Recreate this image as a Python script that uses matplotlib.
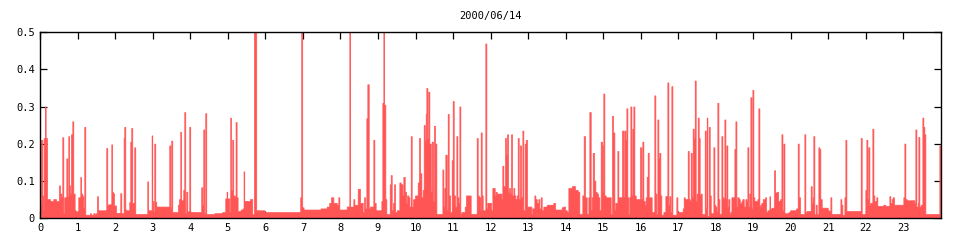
import matplotlib
matplotlib.use("Agg")
import matplotlib.pyplot as plt
import numpy as np

# step series: each entry starts a new level (hour, value)
# values above 0.5 are clipped by the axis
hours = [
    0.000, 0.018, 0.053, 0.071, 0.089, 0.124, 0.142, 0.178, 0.258, 0.346,
    0.417, 0.497, 0.524, 0.559, 0.586, 0.613, 0.639, 0.693, 0.719, 0.746,
    0.764, 0.790, 0.817, 0.853, 0.879, 0.915, 0.941, 1.012, 1.066, 1.083,
    1.119, 1.146, 1.172, 1.199, 1.323, 1.350, 1.412, 1.439, 1.465, 1.492,
    1.510, 1.536, 1.758, 1.785, 1.812, 1.892, 1.909, 1.936, 1.963, 2.016,
    2.131, 2.158, 2.220, 2.238, 2.265, 2.291, 2.371, 2.398, 2.424, 2.451,
    2.504, 2.531, 2.851, 2.869, 2.966, 2.984, 3.011, 3.037, 3.064, 3.091,
    3.437, 3.464, 3.490, 3.517, 3.668, 3.694, 3.730, 3.748, 3.810, 3.837,
    3.863, 3.890, 3.917, 3.970, 3.996, 4.289, 4.316, 4.343, 4.369, 4.396,
    4.423, 4.636, 4.849, 4.929, 4.964, 4.982, 5.036, 5.062, 5.080, 5.115,
    5.142, 5.178, 5.204, 5.231, 5.258, 5.338, 5.391, 5.417, 5.435, 5.586,
    5.648, 5.693, 5.755, 5.968, 6.927, 6.954, 6.980, 7.016, 7.469, 7.632,
    7.700, 7.748, 7.810, 7.900, 7.943, 7.970, 8.166, 8.236, 8.254, 8.343,
    8.370, 8.459, 8.521, 8.592, 8.627, 8.654, 8.690, 8.716, 8.752, 8.788,
    8.876, 8.903, 8.938, 9.090, 9.116, 9.143, 9.161, 9.196, 9.223, 9.312,
    9.339, 9.365, 9.401, 9.428, 9.454, 9.498, 9.569, 9.605, 9.650, 9.676,
    9.712, 9.747, 9.774, 9.810, 9.836, 9.872, 9.898, 9.934, 9.987, 10.058,
    10.093, 10.120, 10.156, 10.191, 10.218, 10.245, 10.271, 10.289, 10.316, 10.342,
    10.369, 10.405, 10.431, 10.467, 10.493, 10.520, 10.556, 10.716, 10.742, 10.769,
    10.795, 10.831, 10.858, 10.884, 10.920, 10.964, 10.991, 11.018, 11.053, 11.089,
    11.115, 11.142, 11.169, 11.195, 11.222, 11.311, 11.346, 11.470, 11.630, 11.657,
    11.684, 11.720, 11.737, 11.764, 11.790, 11.861, 11.888, 11.915, 12.012, 12.048,
    12.110, 12.137, 12.164, 12.288, 12.314, 12.341, 12.386, 12.412, 12.439, 12.466,
    12.492, 12.519, 12.546, 12.572, 12.608, 12.634, 12.661, 12.697, 12.723, 12.750,
    12.786, 12.812, 12.848, 12.874, 12.910, 12.937, 12.972, 13.088, 13.114, 13.168,
    13.194, 13.230, 13.274, 13.301, 13.336, 13.363, 13.407, 13.497, 13.674, 13.718,
    13.896, 13.941, 13.985, 14.030, 14.074, 14.164, 14.250, 14.322, 14.366, 14.446,
    14.482, 14.518, 14.562, 14.607, 14.633, 14.669, 14.696, 14.722, 14.758, 14.793,
    14.829, 14.864, 14.900, 14.935, 14.971, 14.989, 15.006, 15.033, 15.069, 15.202,
    15.237, 15.264, 15.300, 15.326, 15.380, 15.406, 15.504, 15.540, 15.566, 15.593,
    15.620, 15.646, 15.673, 15.700, 15.726, 15.753, 15.780, 15.806, 15.833, 15.868,
    15.984, 16.019, 16.046, 16.073, 16.108, 16.135, 16.161, 16.188, 16.215, 16.294,
    16.365, 16.392, 16.419, 16.446, 16.472, 16.499, 16.526, 16.552, 16.606, 16.659,
    16.712, 16.739, 16.766, 16.792, 16.819, 16.846, 16.952, 16.979, 17.121, 17.147,
    17.174, 17.254, 17.281, 17.307, 17.334, 17.361, 17.387, 17.414, 17.441, 17.467,
    17.494, 17.521, 17.547, 17.574, 17.601, 17.628, 17.708, 17.734, 17.761, 17.779,
    17.815, 17.841, 17.868, 17.939, 17.966, 17.992, 18.019, 18.045, 18.072, 18.099,
    18.152, 18.179, 18.206, 18.232, 18.259, 18.286, 18.312, 18.339, 18.366, 18.392,
    18.419, 18.499, 18.526, 18.552, 18.579, 18.615, 18.641, 18.686, 18.712, 18.748,
    18.792, 18.819, 18.845, 18.872, 18.899, 18.925, 18.952, 18.979, 19.005, 19.032,
    19.112, 19.138, 19.165, 19.192, 19.218, 19.254, 19.316, 19.343, 19.378, 19.432,
    19.450, 19.503, 19.556, 19.583, 19.628, 19.663, 19.717, 19.752, 19.779, 19.806,
    19.832, 19.939, 19.984, 20.143, 20.186, 20.213, 20.248, 20.364, 20.390, 20.426,
    20.532, 20.559, 20.586, 20.603, 20.630, 20.665, 20.692, 20.737, 20.763, 20.790,
    20.826, 20.986, 21.021, 21.057, 21.084, 21.324, 21.350, 21.377, 21.431, 21.457,
    21.484, 21.865, 21.892, 21.989, 22.016, 22.043, 22.069, 22.096, 22.123, 22.176,
    22.203, 22.229, 22.283, 22.309, 22.469, 22.520, 22.629, 22.656, 22.691, 22.718,
    22.754, 23.002, 23.029, 23.056, 23.091, 23.296, 23.322, 23.349, 23.385, 23.402,
    23.429, 23.464, 23.509, 23.535, 23.562, 23.589, 23.962, 23.988, 24.000,
]
values = [
    0.035, 0.210, 0.060, 0.020, 0.215, 0.300, 0.215, 0.050, 0.045, 0.050,
    0.045, 0.087, 0.065, 0.055, 0.217, 0.012, 0.055, 0.160, 0.057, 0.220,
    0.087, 0.065, 0.225, 0.260, 0.065, 0.020, 0.017, 0.055, 0.110, 0.065,
    0.058, 0.027, 0.245, 0.008, 0.012, 0.008, 0.012, 0.008, 0.012, 0.008,
    0.058, 0.020, 0.188, 0.033, 0.036, 0.198, 0.070, 0.066, 0.033, 0.013,
    0.066, 0.012, 0.215, 0.245, 0.022, 0.020, 0.042, 0.205, 0.242, 0.040,
    0.190, 0.010, 0.098, 0.020, 0.222, 0.045, 0.015, 0.200, 0.043, 0.030,
    0.195, 0.027, 0.208, 0.015, 0.035, 0.050, 0.232, 0.047, 0.075, 0.285,
    0.012, 0.070, 0.017, 0.245, 0.015, 0.082, 0.035, 0.238, 0.012, 0.282,
    0.010, 0.012, 0.015, 0.052, 0.070, 0.052, 0.015, 0.270, 0.075, 0.210,
    0.060, 0.055, 0.258, 0.055, 0.018, 0.022, 0.025, 0.125, 0.045, 0.050,
    0.010, 0.600, 0.020, 0.015, 0.055, 0.600, 0.028, 0.022, 0.025, 0.030,
    0.040, 0.055, 0.040, 0.035, 0.055, 0.022, 0.030, 0.600, 0.030, 0.050,
    0.035, 0.078, 0.040, 0.015, 0.055, 0.025, 0.268, 0.360, 0.025, 0.030,
    0.210, 0.040, 0.020, 0.045, 0.310, 0.600, 0.305, 0.050, 0.010, 0.090,
    0.115, 0.020, 0.040, 0.090, 0.015, 0.020, 0.095, 0.090, 0.060, 0.110,
    0.070, 0.040, 0.060, 0.055, 0.030, 0.220, 0.030, 0.050, 0.060, 0.095,
    0.215, 0.120, 0.055, 0.075, 0.250, 0.210, 0.280, 0.350, 0.215, 0.340,
    0.200, 0.070, 0.205, 0.045, 0.248, 0.200, 0.010, 0.130, 0.030, 0.080,
    0.170, 0.020, 0.280, 0.060, 0.015, 0.155, 0.315, 0.060, 0.030, 0.220,
    0.055, 0.040, 0.300, 0.010, 0.015, 0.030, 0.060, 0.010, 0.215, 0.060,
    0.055, 0.020, 0.230, 0.060, 0.020, 0.470, 0.025, 0.040, 0.020, 0.080,
    0.060, 0.070, 0.065, 0.050, 0.140, 0.085, 0.215, 0.170, 0.225, 0.070,
    0.080, 0.065, 0.225, 0.060, 0.080, 0.060, 0.050, 0.060, 0.215, 0.050,
    0.195, 0.055, 0.235, 0.020, 0.200, 0.210, 0.030, 0.010, 0.025, 0.060,
    0.050, 0.040, 0.050, 0.025, 0.055, 0.020, 0.030, 0.035, 0.040, 0.022,
    0.028, 0.030, 0.020, 0.015, 0.080, 0.085, 0.075, 0.070, 0.010, 0.060,
    0.220, 0.055, 0.010, 0.055, 0.285, 0.020, 0.055, 0.175, 0.100, 0.070,
    0.065, 0.055, 0.020, 0.205, 0.070, 0.195, 0.335, 0.060, 0.055, 0.010,
    0.275, 0.230, 0.020, 0.040, 0.180, 0.055, 0.235, 0.055, 0.235, 0.210,
    0.295, 0.055, 0.010, 0.055, 0.300, 0.060, 0.240, 0.300, 0.060, 0.050,
    0.190, 0.050, 0.205, 0.045, 0.035, 0.055, 0.110, 0.175, 0.055, 0.015,
    0.330, 0.065, 0.010, 0.265, 0.160, 0.175, 0.060, 0.008, 0.015, 0.058,
    0.365, 0.035, 0.058, 0.015, 0.355, 0.008, 0.055, 0.015, 0.025, 0.055,
    0.050, 0.180, 0.050, 0.045, 0.175, 0.055, 0.240, 0.215, 0.370, 0.045,
    0.065, 0.270, 0.215, 0.060, 0.065, 0.010, 0.235, 0.025, 0.270, 0.005,
    0.245, 0.060, 0.012, 0.190, 0.035, 0.030, 0.015, 0.310, 0.050, 0.010,
    0.220, 0.055, 0.050, 0.265, 0.050, 0.195, 0.030, 0.050, 0.010, 0.015,
    0.055, 0.185, 0.260, 0.030, 0.055, 0.050, 0.040, 0.045, 0.050, 0.030,
    0.050, 0.045, 0.190, 0.030, 0.065, 0.325, 0.025, 0.345, 0.055, 0.045,
    0.050, 0.295, 0.030, 0.035, 0.040, 0.050, 0.055, 0.015, 0.020, 0.058,
    0.025, 0.027, 0.128, 0.068, 0.070, 0.045, 0.050, 0.225, 0.020, 0.200,
    0.012, 0.015, 0.020, 0.025, 0.200, 0.055, 0.010, 0.225, 0.015, 0.018,
    0.085, 0.040, 0.055, 0.220, 0.010, 0.035, 0.010, 0.190, 0.185, 0.050,
    0.027, 0.020, 0.018, 0.055, 0.010, 0.050, 0.035, 0.008, 0.055, 0.210,
    0.018, 0.215, 0.010, 0.075, 0.210, 0.050, 0.190, 0.035, 0.040, 0.240,
    0.060, 0.045, 0.055, 0.032, 0.035, 0.032, 0.058, 0.040, 0.050, 0.055,
    0.035, 0.055, 0.200, 0.050, 0.047, 0.040, 0.238, 0.030, 0.040, 0.218,
    0.030, 0.035, 0.270, 0.245, 0.225, 0.010, 0.195, 0.020, 0.020,
]

title = "2000/06/14"
x_ticks = list(range(24))
y_ticks = [0, 0.1, 0.2, 0.3, 0.4, 0.5]
y_labels = ["0", "0.1", "0.2", "0.3", "0.4", "0.5"]

fig = plt.figure(figsize=(9.6, 2.4), dpi=100)
ax = fig.add_axes([0.042, 0.093, 0.938, 0.772])

# thin edge so single-sample spikes come out as full 1px bars
ax.fill_between(hours, values, step="post", facecolor="#ff5555",
                edgecolor="#ff5555", lw=0.5, antialiased=False)

ax.set_xlim(0, 24)
ax.set_ylim(0, 0.5)
ax.set_axisbelow(True)

font = dict(family="DejaVu Sans Mono", size=7.5)
ax.set_xticks(x_ticks)
ax.set_xticklabels([str(t) for t in x_ticks], **font)
ax.set_yticks(y_ticks)
ax.set_yticklabels(y_labels, **font)
ax.tick_params(direction="in", length=5, width=0.9, top=True, right=True,
               pad=4)

for s in ax.spines.values():
    s.set_linewidth(1.0)

ax.set_title(title, pad=10, **font)

fig.savefig("out.png", dpi=100)
